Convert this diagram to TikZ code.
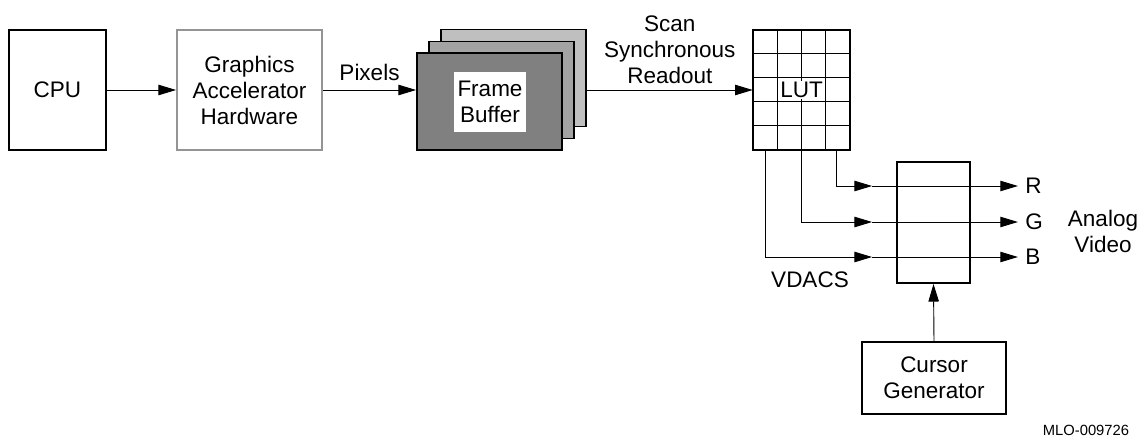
\documentclass[tikz,border=0pt]{standalone}
\usepackage{fontspec}
\setmainfont{Liberation Sans}
\usetikzlibrary{arrows.meta, calc, positioning}

\tikzset{
  box/.style={draw, line width=1.3pt, align=center, inner sep=0pt},
  wire/.style={line width=0.65pt},
  fbcard/.style={draw, line width=1.3pt, minimum width=3.625cm, minimum height=2.425cm}
}

\begin{document}
\begin{tikzpicture}[x=0.025cm, y=-0.025cm, >={Triangle[length=4.4mm,width=2.6mm]},
    font=\fontsize{16}{18.5}\selectfont]
    \useasboundingbox (0,0) rectangle (1140,441);

    % CPU and accelerator
    \node [box, minimum width=2.425cm, minimum height=3cm] (cpu) at (57.5,90) {CPU};
    \node [box, draw=black!42, minimum width=3.625cm, minimum height=3cm] (gah) at (249.5,90) {Graphics\\Accelerator\\Hardware};
    \draw [wire, ->] (cpu.east) -- (gah.west);

    % Frame buffer stack
    \node [fbcard, fill=gray!50] (fb3) at (513.5,78) {};
    \node [fbcard, fill=gray!72] (fb2) at (501.5,90) {};
    \node [fbcard, fill=black!50] (fb1) at (489.5,101.5) {};
    \node [fill=white, align=center, minimum width=1.8cm, minimum height=1.5cm, inner sep=0pt] (fblabel) at (490,102) {Frame\\Buffer};
    \draw [wire, ->] (gah.east) -- (gah.east -| fb1.west) node [midway, above, yshift=3pt] {Pixels};

    % LUT
    \node [minimum width=2.425cm, minimum height=3cm, inner sep=0pt] (lut) at (801.5,90) {};
    \foreach \i in {1,2,3} {
        \draw [wire] ($(lut.north west)+(\i*24.25,0)$) -- ($(lut.south west)+(\i*24.25,0)$);
    }
    \foreach \j in {1,2,3,4} {
        \draw [wire] ($(lut.north west)+(0,\j*24)$) -- ($(lut.north east)+(0,\j*24)$);
    }
    \draw [line width=1.3pt] (lut.north west) rectangle (lut.south east);
    \node [fill=white, inner sep=1pt] (luttext) at (lut.center) {LUT};
    \draw [wire, ->] (fb3.east |- lut.west) -- (lut.west)
        node [midway, above, align=center, yshift=1pt] {Scan\\Synchronous\\Readout};

    % VDACs
    \node [box, minimum width=1.825cm, minimum height=3.025cm] (vdac) at (933.5,222.5) {};
    \foreach \n/\dx/\yy/\l in {r/84/186/R, g/49/222/G, b/13/257/B} {
        \coordinate (\n in) at ($(vdac.west |- 0,\yy)+(-24,0)$);
        \coordinate (\n out) at ($(vdac.east |- 0,\yy)+(47,0)$);
        \draw [wire, ->] ($(lut.south west)+(\dx,0)$) |- (\n in);
        \draw [wire, ->] (\n in) -- (\n out) node [right, inner sep=5pt] {\l};
    }
    \node (vdacs) at (810,280) {VDACS};
    \node [align=center] (analog) at (1103,231) {Analog\\Video};

    % Cursor
    \node [box, minimum width=3.6cm, minimum height=1.8cm] (cursor) at (934,378) {Cursor\\Generator};
    \draw [wire, ->] (cursor.north) -- (vdac.south);

    \node [font=\fontsize{10.5}{12}\selectfont] (figid) at (1086,430) {MLO-009726};
\end{tikzpicture}
\end{document}
